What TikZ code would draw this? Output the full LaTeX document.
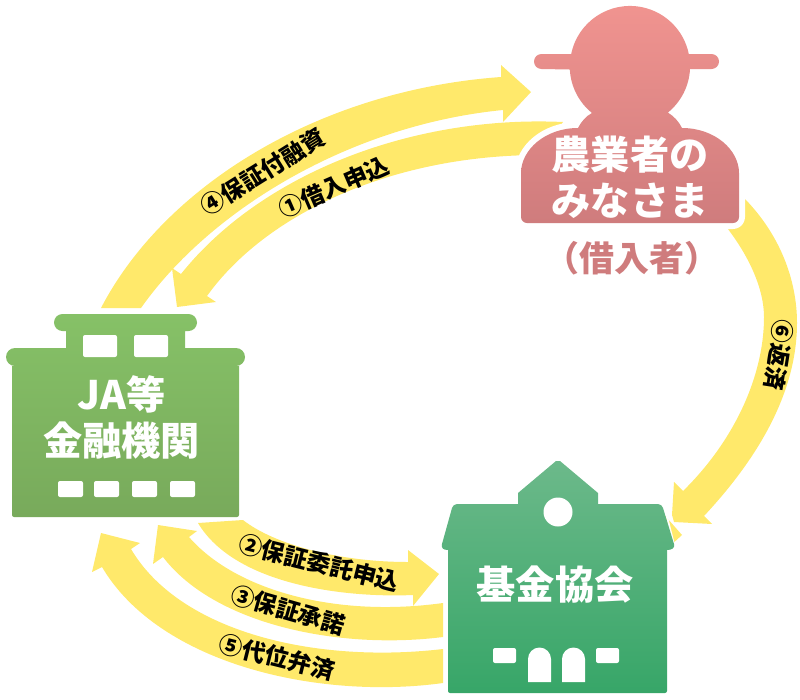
\documentclass[tikz,border=0pt]{standalone}
\usepackage{fontspec}
\newfontfamily\cjk{Noto Sans CJK JP}
\definecolor{arrowyellow}{HTML}{FFE96B}
\definecolor{rosetop}{HTML}{F19490}
\definecolor{rosebot}{HTML}{CF7C7D}
\definecolor{jatop}{HTML}{86C167}
\definecolor{jabot}{HTML}{78AA5B}
\definecolor{kyotop}{HTML}{6CB98A}
\definecolor{kyobot}{HTML}{37A668}
\tikzset{
  x=1pt,y=-1pt,
  blockarrow/.style={fill=arrowyellow,draw=none},
  win/.style={fill=white,draw=none,rounded corners=2pt},
  flowlabel/.style={text=black,inner sep=0pt,font=\cjk\bfseries\fontsize{23.5}{25}\selectfont},
  bigtext/.style={text=white,inner sep=0pt,align=center,font=\cjk\bfseries\fontsize{39.2}{46}\selectfont},
}
\begin{document}
\begin{tikzpicture}
\useasboundingbox (0,0) rectangle (800,699);
% --- block arrows
\fill[blockarrow] (101,308) .. controls (165,185) and (320,90) .. (501,77) -- (501,65) -- (531,92) -- (503,122) -- (503,110) .. controls (350,125) and (210,210) .. (141,308) -- cycle;
\fill[blockarrow] (563,122) .. controls (410,115) and (260,175) .. (181,274) -- (172,268) -- (177,307) -- (216,302) -- (207,296) .. controls (265,215) and (390,155) .. (540,155) -- cycle;
\fill[blockarrow] (745,199) .. controls (780,235) and (797,280) .. (797,323) .. controls (797,375) and (775,440) .. (704,516) -- (712,524) -- (674,522) -- (672,515) -- (674,482) -- (683,491) .. controls (735,440) and (764,375) .. (764,317) .. controls (764,290) and (750,255) .. (720,219) -- cycle;
\fill[blockarrow] (660,510) -- (682,535) -- (670,546) -- cycle;
\fill[blockarrow] (243,520) .. controls (275,545) and (340,562) .. (408,562) -- (408,550) -- (439,574) -- (413,606) -- (413,595) .. controls (345,598) and (235,585) .. (198,523) -- cycle;
\fill[blockarrow] (189,537) .. controls (235,590) and (335,618) .. (443,603) -- (443,637) .. controls (340,650) and (215,625) .. (163,557) -- (153,564) -- (158,525) -- (197,531) -- cycle;
\fill[blockarrow] (131,549) .. controls (180,632) and (315,664) .. (443,649) -- (443,683) .. controls (320,700) and (160,665) .. (102,567) -- (92,572) -- (101,533) -- (140,543) -- cycle;
% --- person
\def\personpath{(541.5,54) -- (571.2,54) arc (191.5:348.5:60) -- (711.5,54) arc (270:450:7.5) -- (690,69) arc (2.9:51:60) .. controls (674,116) and (679,122) .. (682,128) .. controls (715,128) and (739,150) .. (739,173) -- (739,217) arc (0:90:6) -- (527,223) arc (90:180:6) -- (521,173) .. controls (521,150) and (545,128) .. (578,128) .. controls (581,122) and (586,116) .. (592,113) arc (129:177:60) -- (541.5,69) arc (90:270:7.5) -- cycle}
\draw[white,line width=12pt,line join=round] \personpath;
\shade[top color=rosetop,bottom color=rosebot] \personpath;
\node[bigtext] (farmer) at (630,177) {農業者の\\みなさま};
\node[text=rosebot,inner sep=0pt,font=\cjk\bfseries\fontsize{35}{40}\selectfont] (borrower) at (631.5,258) {（借入者）};
% --- JA building
\shade[top color=jatop,bottom color=jabot] (62.5,314) -- (188.5,314) arc (270:450:8.5) -- (185,331) -- (185,348) -- (236,348) arc (270:450:9) -- (239,366) -- (239,515) arc (0:90:2) -- (14,517) arc (90:180:2) -- (12,366) -- (15,366) arc (90:270:9) -- (66,348) -- (66,331) -- (62.5,331) arc (90:270:8.5) -- cycle;
\foreach \xa/\ya/\xb/\yb in {83/335/117/357,134/335/168/357,58/481/83/497,94/481/119/497,132/481/157/497,170/481/195/497}
  \fill[win] (\xa,\ya) rectangle (\xb,\yb);
\node[bigtext] (ja) at (121.5,417.5) {JA等\\金融機関};
% --- Association building
\draw[white,line width=2pt,line join=round] (667,517) -- (674,545);
\shade[top color=kyotop,bottom color=kyobot] (556,461) -- (560,461) -- (598,493) -- (598,504) -- (658,504) .. controls (661,504) and (662,506) .. (663,508) -- (674,544) .. controls (675,548) and (672,550) .. (667,550) -- (667,691) arc (0:90:2) -- (450,693) arc (90:180:2) -- (448,550) .. controls (443,550) and (441,548) .. (442,544) -- (452,508) .. controls (453,506) and (454,504) .. (457,504) -- (518,504) -- (518,493) -- cycle;
\fill[white] (558,512) circle (14.5);
\fill[win] (493,648) rectangle (516,663);
\fill[win] (596,648) rectangle (619,663);
\fill[white] (528,682) -- (528,659) arc (180:360:11.5) -- (551,682) -- cycle;
\fill[white] (562,682) -- (562,659) arc (180:360:11.5) -- (585,682) -- cycle;
\node[bigtext] (kikin) at (555,585) {基金協会};
% --- labels
\node[flowlabel,rotate=32] (l4) at (263,172) {④保証付融資};
\node[flowlabel,rotate=23.5] (l1) at (334,187) {①借入申込};
\node[flowlabel,rotate=-14] (l2) at (319,563) {②保証委託申込};
\node[flowlabel,rotate=-16] (l3) at (288,610) {③保証承諾};
\node[flowlabel,rotate=-14] (l5) at (277,657) {⑤代位弁済};
\node[flowlabel,rotate=-99] (l6) at (779,355) {⑥返済};
\end{tikzpicture}
\end{document}
